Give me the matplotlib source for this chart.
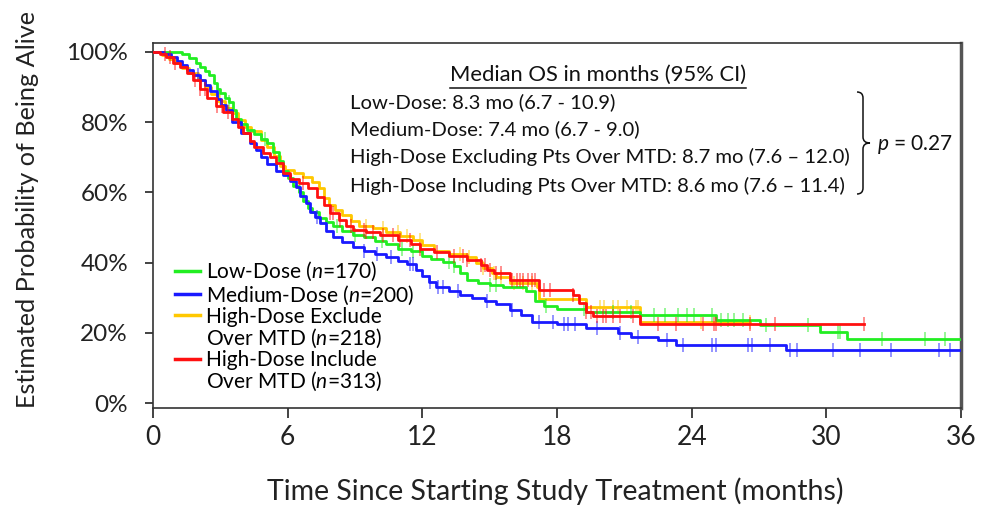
import numpy as np
import matplotlib as mpl
import matplotlib.pyplot as plt
from matplotlib.lines import Line2D
from matplotlib.path import Path
from matplotlib.patches import PathPatch

FONT = 'Lato'
mpl.rcParams['font.family'] = [FONT, 'DejaVu Sans']
mpl.rcParams['mathtext.fontset'] = 'custom'
mpl.rcParams['mathtext.rm'] = FONT
mpl.rcParams['mathtext.it'] = FONT + ':italic'

W, H = 982, 512

# ---- data (months, survival fraction) ----
low_t = [0, 1.3, 1.6, 1.9, 2.1, 2.3, 2.5, 2.7, 2.85, 3.0, 3.2, 3.4, 3.55, 3.7, 3.9,
         4.2, 4.5, 4.8, 5.1, 5.35, 5.6, 5.8, 6.0, 6.25, 6.5, 6.7, 6.9, 7.1, 7.4, 7.7,
         8.0, 8.4, 8.9, 9.4, 9.9, 10.4, 10.9, 11.5, 12.0, 12.4, 12.9, 13.4, 13.7, 14.0,
         14.5, 15.0, 15.6, 16.6, 17.0, 17.4, 18.0, 19.3, 21.7, 25.1, 27.05, 29.7, 30.9]
low_s = [1.0, 0.994, 0.982, 0.97, 0.958, 0.947, 0.935, 0.912, 0.895, 0.882, 0.87, 0.858,
         0.835, 0.81, 0.795, 0.778, 0.766, 0.752, 0.74, 0.715, 0.69, 0.66, 0.64, 0.618,
         0.60, 0.575, 0.556, 0.545, 0.528, 0.515, 0.503, 0.49, 0.48, 0.472, 0.462, 0.452,
         0.44, 0.432, 0.42, 0.41, 0.402, 0.39, 0.37, 0.35, 0.342, 0.336, 0.33, 0.318,
         0.29, 0.276, 0.268, 0.258, 0.25, 0.236, 0.222, 0.203, 0.181]
low_end = 36.0
low_cens = [3.4, 5.0, 8.2, 9.0, 10.2, 11.1, 11.6, 13.2, 13.4, 15.0, 15.3, 17.5, 19.2,
            20.5, 21.3, 22.3, 22.8, 23.4, 23.8, 24.1, 24.9, 25.3, 25.6, 25.9, 26.3,
            27.3, 29.2, 30.5, 30.6, 32.5, 34.4, 35.3]

med_t = [0, 0.5, 0.8, 1.07, 1.3, 1.5, 1.8, 2.1, 2.3, 2.55, 2.85, 3.05, 3.25, 3.5, 3.9,
         4.3, 4.6, 4.8, 5.1, 5.5, 5.8, 6.1, 6.35, 6.55, 6.8, 7.0, 7.2, 7.45, 7.7, 8.0,
         8.4, 8.9, 9.4, 9.9, 10.4, 10.9, 11.3, 11.7, 12.0, 12.3, 12.6, 13.2, 13.7, 14.2,
         14.8, 15.3, 15.9, 16.4, 16.9, 18.0, 19.3, 20.7, 21.3, 22.5, 23.3, 28.2]
med_s = [1.0, 0.993, 0.985, 0.975, 0.962, 0.95, 0.935, 0.92, 0.905, 0.89, 0.865, 0.85,
         0.835, 0.80, 0.77, 0.742, 0.72, 0.70, 0.68, 0.66, 0.65, 0.632, 0.615, 0.59,
         0.57, 0.545, 0.53, 0.512, 0.49, 0.472, 0.458, 0.445, 0.432, 0.425, 0.415, 0.405,
         0.395, 0.38, 0.362, 0.345, 0.33, 0.32, 0.308, 0.30, 0.292, 0.283, 0.265, 0.25,
         0.232, 0.225, 0.214, 0.199, 0.188, 0.179, 0.165, 0.151]
med_end = 36.0
med_cens = [2.0, 7.3, 9.4, 10.0, 10.6, 11.45, 11.6, 12.35, 12.7, 12.9, 13.6, 14.9, 16.0,
            17.2, 17.8, 18.3, 18.5, 18.8, 19.8, 20.8, 21.6, 22.9, 23.6, 24.9, 25.1, 26.5,
            26.7, 27.5, 28.4, 28.7, 30.3, 31.5, 32.9, 35.0, 35.5]

hex_t = [0, 0.4, 0.7, 1.0, 1.3, 1.6, 2.0, 2.3, 2.6, 2.9, 3.2, 3.5, 3.8, 4.1, 4.35, 4.8,
         5.1, 5.4, 5.65, 5.9, 6.3, 6.7, 7.1, 7.4, 7.6, 7.85, 8.1, 8.4, 8.8, 9.2, 9.8,
         10.4, 11.0, 11.6, 12.0, 12.5, 13.2, 14.0, 14.4, 14.7, 15.1, 15.3, 15.9, 17.1,
         17.2, 19.3, 21.7]
hex_s = [1.0, 0.99, 0.98, 0.968, 0.955, 0.94, 0.92, 0.90, 0.88, 0.86, 0.84, 0.826, 0.805,
         0.785, 0.775, 0.75, 0.73, 0.705, 0.675, 0.665, 0.655, 0.645, 0.63, 0.612, 0.585,
         0.565, 0.55, 0.535, 0.518, 0.505, 0.498, 0.488, 0.475, 0.465, 0.45, 0.432, 0.425,
         0.416, 0.398, 0.385, 0.37, 0.358, 0.342, 0.33, 0.295, 0.274, 0.231]
hex_end = 26.6
hex_cens = [3.0, 8.8, 9.5, 10.25, 10.9, 11.3, 11.9, 13.7, 14.1, 14.7, 15.2, 15.5, 16.1,
            16.5, 16.9, 19.3, 19.9, 20.1, 20.5, 20.7, 21.1, 21.5, 21.6, 24.4, 26.6]

hin_t = [0, 0.3, 0.6, 0.9, 1.2, 1.5, 1.8, 2.1, 2.4, 2.8, 3.1, 3.5, 3.8, 4.0, 4.3, 4.5,
         4.9, 5.2, 5.5, 5.8, 6.1, 6.5, 6.9, 7.3, 7.6, 7.9, 8.3, 8.6, 8.9, 9.5, 10.1,
         10.9, 11.5, 11.9, 12.5, 13.2, 14.0, 14.6, 14.9, 15.2, 15.9, 17.2, 18.7, 19.0,
         19.3, 19.6, 21.7]
hin_s = [1.0, 0.993, 0.985, 0.97, 0.957, 0.94, 0.92, 0.895, 0.868, 0.845, 0.83, 0.808,
         0.785, 0.768, 0.745, 0.728, 0.712, 0.70, 0.685, 0.655, 0.638, 0.628, 0.612,
         0.588, 0.565, 0.542, 0.522, 0.505, 0.493, 0.487, 0.48, 0.465, 0.452, 0.44, 0.43,
         0.42, 0.407, 0.393, 0.38, 0.37, 0.35, 0.322, 0.308, 0.285, 0.259, 0.248, 0.225]
hin_end = 31.7
hin_cens = [0.53, 0.76, 0.98, 1.87, 2.1, 2.3, 2.85, 3.07, 3.34, 6.7, 7.9, 8.0, 8.33, 8.8,
            9.4, 9.5, 9.8, 10.25, 10.7, 11.0, 11.45, 11.9, 12.65, 13.4, 13.8, 14.0, 14.6,
            14.8, 15.0, 15.3, 15.5, 16.0, 16.2, 16.35, 16.5, 16.7, 16.9, 17.0, 17.4, 17.7,
            18.7, 19.3, 19.5, 19.8, 20.05, 20.2, 20.5, 20.8, 21.4, 22.5, 23.3, 24.5, 25.0,
            25.1, 26.6, 27.7, 31.7]

arm_labels = ['Low-Dose ($n$=170)', 'Medium-Dose ($n$=200)',
              'High-Dose Exclude', 'High-Dose Include']
arm_label2 = [None, None, 'Over MTD ($n$=218)', 'Over MTD ($n$=313)']
arm_colors = ['#22ee22', '#1a1aff', '#ffc800', '#ff1010']

median_names = ['Low-Dose', 'Medium-Dose', 'High-Dose Excluding Pts Over MTD',
                'High-Dose Including Pts Over MTD']
median_mo = ['8.3', '7.4', '8.7', '8.6']
ci_lo = ['6.7', '6.7', '7.6', '7.6']
ci_hi = ['10.9', '9.0', '12.0', '11.4']
ci_sep = ['-', '-', '\u2013', '\u2013']
p_value = '0.27'

x_ticks = [0, 6, 12, 18, 24, 30, 36]
y_ticks = [0, 0.2, 0.4, 0.6, 0.8, 1.0]
y_tick_labels = ['0%', '20%', '40%', '60%', '80%', '100%']


def fx(px):
    return px / W


def fy(py):
    return 1 - py / H


def surv_at(times, surv, t):
    idx = np.searchsorted(times, t, side='right') - 1
    return np.asarray(surv)[idx]


fig = plt.figure(figsize=(W / 100, H / 100), dpi=100)
ax = fig.add_axes([fx(153), fy(408), fx(961) - fx(153), fy(43) - fy(408)])

arms = [(low_t, low_s, low_end, low_cens),
        (med_t, med_s, med_end, med_cens),
        (hex_t, hex_s, hex_end, hex_cens),
        (hin_t, hin_s, hin_end, hin_cens)]
zorders = [3, 3, 2, 4]

for (t, s, end, cens), col, z in zip(arms, arm_colors, zorders):
    tt = list(t) + [end]
    ss = list(s) + [s[-1]]
    ax.plot(tt, ss, drawstyle='steps-post', color=col, lw=2.0, zorder=z)
    cy = surv_at(t, s, np.array(cens))
    ax.plot(cens, cy, ls='none', marker='|', ms=10, mew=1.2, color=col,
            alpha=0.55, zorder=z)

ax.set_xlim(0, 36)
ax.set_ylim(-0.0142, 1.0256)
ax.set_xticks(x_ticks)
ax.set_xticklabels([str(v) for v in x_ticks], fontsize=19)
ax.set_yticks(y_ticks)
ax.set_yticklabels(y_tick_labels, fontsize=17.5)
ax.tick_params(axis='y', length=6, width=1.2, pad=12, colors='#222222')
ax.tick_params(axis='x', length=7, width=1.2, pad=5, colors='#222222')

for side in ['left', 'bottom', 'top']:
    ax.spines[side].set_color('#333333')
    ax.spines[side].set_linewidth(1.2)
ax.spines['right'].set_color('#555555')
ax.spines['right'].set_linewidth(2.5)

ax.set_ylabel('Estimated Probability of Being Alive', fontsize=18.2, color='#222222')
ax.yaxis.set_label_coords((39 - 153) / 808, 0.545)
ax.set_xlabel('Time Since Starting Study Treatment (months)', fontsize=20.5,
              color='#222222')
ax.xaxis.set_label_coords(0.4975, -0.19)

# legend, second label lines as blank entries
handles, labels = [], []
for lab, lab2, col in zip(arm_labels, arm_label2, arm_colors):
    handles.append(Line2D([], [], color=col, lw=2.5))
    labels.append(lab)
    if lab2:
        handles.append(Line2D([], [], color='none'))
        labels.append(lab2)
ax.legend(handles, labels, loc='upper left', bbox_to_anchor=(0.027, 0.405),
          frameon=False, fontsize=15, handlelength=1.2, handletextpad=0.3,
          labelspacing=0.0, borderpad=0, borderaxespad=0)

# median OS block
title = fig.text(fx(598), fy(75), 'Median OS in months (95% CI)', fontsize=15.8,
                 ha='center', va='center', color='#111111')
row_y = [102, 129, 157, 186]
for name, m, lo, hi, sep, py in zip(median_names, median_mo, ci_lo, ci_hi, ci_sep, row_y):
    fig.text(fx(350), fy(py), f'{name}: {m} mo ({lo} {sep} {hi})', fontsize=14.6,
             ha='left', va='center', color='#111111')

fig.text(fx(877), fy(145), '$p$ = ' + p_value, fontsize=15, ha='left', va='center',
         color='#111111')

# right brace
x0, xm, x1 = 857, 863, 870
yt, ymid, yb, r = 92, 143, 194, 6
verts_px = [(x0, yt), (xm, yt), (xm, yt + r), (xm, ymid - r), (xm, ymid), (x1, ymid),
            (xm, ymid), (xm, ymid + r), (xm, yb - r), (xm, yb), (x0, yb)]
codes = [Path.MOVETO, Path.CURVE3, Path.CURVE3, Path.LINETO, Path.CURVE3, Path.CURVE3,
         Path.CURVE3, Path.CURVE3, Path.LINETO, Path.CURVE3, Path.CURVE3]
brace = Path([(fx(a), fy(b)) for a, b in verts_px], codes)
fig.patches.append(PathPatch(brace, fill=False, lw=1.1, color='#111111',
                             transform=fig.transFigure))

# underline the block title
fig.canvas.draw()
bb = title.get_window_extent()
fig.add_artist(Line2D([bb.x0 / W, bb.x1 / W], [fy(88), fy(88)], color='#111111',
                      lw=1.1, transform=fig.transFigure))

fig.savefig('out.png', dpi=100)
